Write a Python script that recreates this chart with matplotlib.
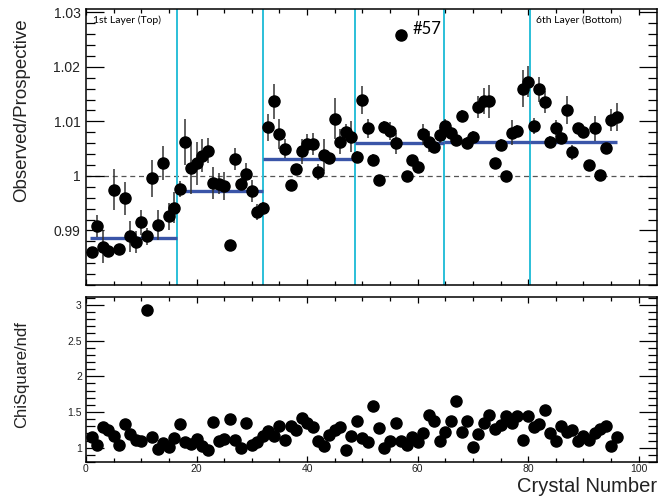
import numpy as np
import matplotlib
matplotlib.use("Agg")
import matplotlib.pyplot as plt
from matplotlib.ticker import MultipleLocator

# crystal numbers 1..96, six layers of 16
crystal = list(range(1, 97))

ratio = [0.9860, 0.9908, 0.9870, 0.9862, 0.9975, 0.9866, 0.9959, 0.9889,
         0.9879, 0.9915, 0.9889, 0.9996, 0.9910, 1.0023, 0.9926, 0.9942,
         0.9976, 1.0062, 1.0014, 1.0023, 1.0037, 1.0046, 0.9987, 0.9986,
         0.9982, 0.9873, 1.0031, 0.9986, 1.0003, 0.9972, 0.9934, 0.9942,
         1.0089, 1.0137, 1.0077, 1.0050, 0.9983, 1.0012, 1.0045, 1.0059,
         1.0059, 1.0007, 1.0038, 1.0032, 1.0105, 1.0063, 1.0080, 1.0072,
         1.0035, 1.0139, 1.0087, 1.0030, 0.9992, 1.0090, 1.0082, 1.0060,
         1.0258, 1.0000, 1.0029, 1.0017, 1.0076, 1.0063, 1.0053, 1.0075,
         1.0092, 1.0079, 1.0066, 1.0110, 1.0061, 1.0072, 1.0127, 1.0137,
         1.0137, 1.0023, 1.0057, 1.0000, 1.0079, 1.0083, 1.0160, 1.0173,
         1.0091, 1.0159, 1.0135, 1.0063, 1.0087, 1.0070, 1.0121, 1.0043,
         1.0087, 1.0080, 1.0020, 1.0087, 1.0001, 1.0051, 1.0102, 1.0108]

# errors in units of 1e-3
ratio_err = [1.0, 2.0, 3.0, 0.8, 3.8, 0.8, 3.0, 2.8, 2.0, 2.3, 1.5, 3.4, 2.8, 3.1, 2.5, 2.8,
             1.5, 4.2, 4.8, 4.0, 3.0, 2.3, 3.0, 2.0, 2.6, 0.5, 2.0, 1.0, 2.0, 2.0, 1.5, 1.0,
             2.5, 3.2, 2.7, 1.7, 1.0, 1.0, 2.3, 1.7, 2.0, 1.4, 2.9, 1.0, 3.8, 2.3, 1.6, 2.8,
             1.0, 2.6, 1.7, 1.0, 0.8, 1.0, 1.7, 1.9, 0.5, 0.8, 1.0, 1.0, 2.0, 1.9, 1.0, 1.5,
             1.3, 1.0, 1.0, 1.1, 1.0, 1.0, 2.0, 2.4, 3.0, 0.8, 1.0, 0.8, 2.3, 1.0, 3.4, 2.8,
             1.5, 2.3, 2.0, 1.0, 1.5, 1.0, 2.5, 1.3, 1.0, 1.0, 0.8, 2.3, 0.8, 1.0, 2.0, 2.5]

chi2ndf = [1.155, 1.038, 1.296, 1.249, 1.169, 1.038, 1.333, 1.192, 1.108, 1.094, 2.925, 1.155,
           0.977, 1.061, 1.005, 1.141, 1.329, 1.075, 1.052, 1.127, 1.023, 0.967, 1.357, 1.099,
           1.117, 1.408, 1.108, 0.991, 1.352, 1.042, 1.075, 1.164, 1.239, 1.164, 1.310, 1.108,
           1.310, 1.249, 1.413, 1.352, 1.296, 1.099, 1.028, 1.178, 1.249, 1.286, 0.967, 1.169,
           1.376, 1.141, 1.085, 1.587, 1.277, 0.991, 1.094, 1.343, 1.099, 1.033, 1.146, 1.085,
           1.211, 1.460, 1.380, 1.099, 1.216, 1.376, 1.657, 1.216, 1.376, 1.014, 1.192, 1.343,
           1.460, 1.263, 1.319, 1.446, 1.343, 1.451, 1.108, 1.451, 1.296, 1.329, 1.531, 1.202,
           1.094, 1.310, 1.225, 1.249, 1.099, 1.169, 1.108, 1.211, 1.258, 1.305, 1.023, 1.146]

layer_mean = [0.9887, 0.9972, 1.0031, 1.0060, 1.0063, 1.0062]
layer_edges = [0.7, 16.45, 32.1, 48.6, 64.8, 80.4, 96.0]

x = np.array(crystal)
y = np.array(ratio)
yerr = np.array(ratio_err) * 1e-3

fig = plt.figure(figsize=(6.63, 4.96), dpi=100)
ax1 = fig.add_axes([0.1297, 0.4254, 0.8612, 0.5565])
ax2 = fig.add_axes([0.1297, 0.0685, 0.8612, 0.3327])

cyan = '#2bbfd8'
blue = '#3a55a8'

# top panel
ax1.axhline(1.0, color='#555555', lw=0.9, ls=(0, (4, 3)), zorder=1)
for xe in layer_edges[1:-1]:
    ax1.axvline(xe, color=cyan, lw=1.4, zorder=2)
for i, m in enumerate(layer_mean):
    ax1.plot([layer_edges[i], layer_edges[i + 1]], [m, m], color=blue, lw=2.4,
             solid_capstyle='butt', zorder=3)
ax1.errorbar(x, y, yerr=yerr, fmt='o', color='black', ecolor='#333333',
             elinewidth=1.1, ms=8, capsize=0, zorder=4)

ax1.set_xlim(0, 103.3)
ax1.set_ylim(0.98, 1.0306)
ax1.yaxis.set_major_locator(MultipleLocator(0.01))
ax1.yaxis.set_minor_locator(MultipleLocator(0.002))
ax1.set_yticks([0.99, 1.0, 1.01, 1.02, 1.03])
ax1.set_yticklabels(['0.99', '1', '1.01', '1.02', '1.03'])

ax1.text(1.2, 1.0285, '1st Layer (Top)', fontsize=7.5, family='Lato', va='center', ha='left')
ax1.text(81.4, 1.0285, '6th Layer (Bottom)', fontsize=7.5, family='Lato', va='center', ha='left')
ax1.text(59.0, 1.0270, '#57', fontsize=12, family='Lato', va='center', ha='left')

# bottom panel
ax2.plot(x, chi2ndf, 'o', color='black', ms=8)
ax2.set_xlim(0, 103.3)
ax2.set_ylim(0.8, 3.11)
ax2.yaxis.set_major_locator(MultipleLocator(0.5))
ax2.yaxis.set_minor_locator(MultipleLocator(0.1))
ax2.set_yticks([1, 1.5, 2, 2.5, 3])
ax2.set_yticklabels(['1', '1.5', '2', '2.5', '3'])

for ax in (ax1, ax2):
    ax.xaxis.set_major_locator(MultipleLocator(20))
    ax.xaxis.set_minor_locator(MultipleLocator(5))
    for s in ax.spines.values():
        s.set_linewidth(1.1)
    ax.tick_params(which='both', direction='in', top=True, right=True, width=0.9)
    ax.tick_params(axis='x', which='major', length=4.5)
    ax.tick_params(axis='x', which='minor', length=3.0)
    ax.tick_params(axis='y', which='major', length=13)
    ax.tick_params(axis='y', which='minor', length=6.5)

ax1.tick_params(axis='x', labelbottom=False)
ax1.tick_params(axis='y', labelsize=10, labelcolor='#222222', pad=4)
ax2.tick_params(axis='y', labelsize=7.5, labelcolor='#222222', pad=3)
ax2.tick_params(axis='x', labelsize=7.5, labelcolor='#222222', pad=1.5)
for lab in ax1.get_yticklabels() + ax2.get_yticklabels() + ax2.get_xticklabels():
    lab.set_family('Liberation Sans')

fig.text(0.033, 0.778, 'Observed/Prospective', rotation=90, ha='center', va='center',
         fontsize=13.5, family='Liberation Sans', color='#222222')
fig.text(0.033, 0.245, 'ChiSquare/ndf', rotation=90, ha='center', va='center',
         fontsize=12, family='Liberation Sans', color='#222222')
fig.text(0.991, 0.008, 'Crystal Number', ha='right', va='baseline',
         fontsize=14.5, family='Liberation Sans', color='#222222')

fig.savefig('out.png', dpi=100)
